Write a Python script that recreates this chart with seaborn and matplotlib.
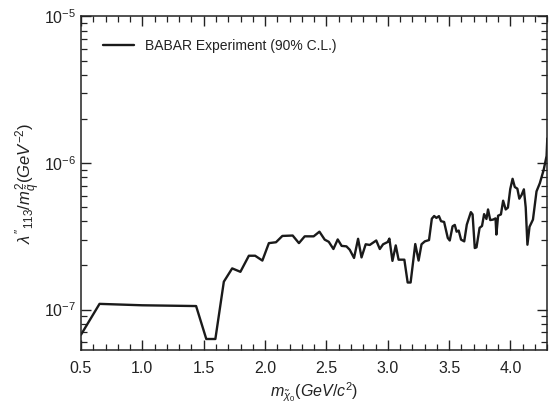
import matplotlib
matplotlib.use("Agg")
import matplotlib.pyplot as plt
import seaborn as sns
import pandas as pd
from matplotlib.ticker import LogLocator, MultipleLocator, FixedLocator

# --- data ---
mass = [0.5, 0.651, 0.998, 1.438, 1.521, 1.595, 1.664, 1.732, 1.799, 1.868,
        1.919, 1.978, 2.031, 2.089, 2.141, 2.225, 2.276, 2.323, 2.396, 2.443,
        2.486, 2.519, 2.557, 2.592, 2.624, 2.663, 2.690, 2.725, 2.758, 2.786,
        2.820, 2.853, 2.906, 2.935, 2.962, 2.999, 3.013, 3.038, 3.065, 3.088,
        3.135, 3.162, 3.186, 3.224, 3.251, 3.275, 3.302, 3.336, 3.359, 3.378,
        3.396, 3.417, 3.434, 3.459, 3.489, 3.505, 3.528, 3.546, 3.561, 3.578,
        3.597, 3.623, 3.644, 3.677, 3.691, 3.709, 3.723, 3.748, 3.768, 3.785,
        3.804, 3.817, 3.835, 3.858, 3.878, 3.885, 3.899, 3.922, 3.940, 3.961,
        3.979, 3.998, 4.017, 4.035, 4.056, 4.072, 4.090, 4.109, 4.124, 4.138,
        4.155, 4.183, 4.212, 4.239, 4.270, 4.294, 4.300]
limit = [6.74e-8, 1.094e-7, 1.07e-7, 1.057e-7, 6.3e-8, 6.3e-8, 1.55e-7, 1.91e-7, 1.81e-7, 2.33e-7,
         2.33e-7, 2.16e-7, 2.84e-7, 2.88e-7, 3.18e-7, 3.2e-7, 2.84e-7, 3.16e-7, 3.16e-7, 3.40e-7,
         3.0e-7, 2.9e-7, 2.59e-7, 3.01e-7, 2.72e-7, 2.70e-7, 2.56e-7, 2.25e-7, 3.04e-7, 2.27e-7,
         2.79e-7, 2.76e-7, 2.96e-7, 2.59e-7, 2.79e-7, 2.89e-7, 3.05e-7, 2.15e-7, 2.74e-7, 2.19e-7,
         2.19e-7, 1.53e-7, 1.53e-7, 2.80e-7, 2.16e-7, 2.79e-7, 2.92e-7, 2.98e-7, 4.17e-7, 4.35e-7,
         4.22e-7, 4.34e-7, 4.01e-7, 3.96e-7, 3.08e-7, 2.96e-7, 3.70e-7, 3.78e-7, 3.40e-7, 3.46e-7,
         3.0e-7, 2.92e-7, 3.80e-7, 4.62e-7, 4.46e-7, 2.63e-7, 2.66e-7, 3.61e-7, 3.72e-7, 4.48e-7,
         4.15e-7, 4.82e-7, 4.08e-7, 4.11e-7, 4.19e-7, 3.25e-7, 4.37e-7, 4.46e-7, 5.53e-7, 4.82e-7,
         4.96e-7, 6.64e-7, 7.80e-7, 6.86e-7, 6.68e-7, 5.71e-7, 6.04e-7, 6.61e-7, 4.98e-7, 2.77e-7,
         3.67e-7, 4.11e-7, 6.40e-7, 7.28e-7, 8.95e-7, 1.117e-6, 1.47e-6]
series_label = "BABAR Experiment (90% C.L.)"
x_ticks = [0.5, 1.0, 1.5, 2.0, 2.5, 3.0, 3.5, 4.0]
x_tick_labels = ["0.5", "1.0", "1.5", "2.0", "2.5", "3.0", "3.5", "4.0"]

df = pd.DataFrame({"mass": mass, "limit": limit, "series": series_label})

sns.set_style("ticks")
plt.rcParams["font.family"] = ["Liberation Sans", "DejaVu Sans"]
plt.rcParams["mathtext.fontset"] = "custom"
plt.rcParams["mathtext.it"] = "Liberation Sans:italic"
plt.rcParams["mathtext.rm"] = "Liberation Sans"
plt.rcParams["mathtext.sf"] = "Liberation Sans"

fig = plt.figure(figsize=(5.51, 4.03), dpi=100)
ax = fig.add_axes([0.147, 0.1315, 0.8463, 0.8278])

sns.lineplot(data=df, x="mass", y="limit", hue="series", palette=["#1a1a1a"],
             sort=False, estimator=None, linewidth=1.7, ax=ax)

ax.set_yscale("log")
ax.set_xlim(0.5, 4.3)
ax.set_ylim(5.3e-8, 1e-5)

ax.xaxis.set_major_locator(FixedLocator(x_ticks))
ax.set_xticklabels(x_tick_labels)
ax.xaxis.set_minor_locator(MultipleLocator(0.1))
ax.yaxis.set_major_locator(LogLocator(base=10, numticks=10))
ax.yaxis.set_minor_locator(LogLocator(base=10, subs=range(2, 10), numticks=20))

ax.tick_params(which="both", direction="in", top=True, right=True,
               color="#222222", labelsize=11.5, labelcolor="#222222")
ax.tick_params(which="major", length=7, width=1)
ax.tick_params(which="minor", length=4, width=0.9)
ax.tick_params(axis="x", which="major", pad=8)
for s in ax.spines.values():
    s.set_color("#222222")
    s.set_linewidth(1.1)

ax.set_xlabel(r"$m_{\tilde{\chi}_0}(GeV/c^2)$", fontsize=11.5, color="#222222", labelpad=3)
ax.set_ylabel(r"$\lambda''_{113}/m^2_{\tilde{q}}(GeV^{-2})$", fontsize=12,
              color="#222222", labelpad=1)

leg = ax.legend(loc="upper left", frameon=False, fontsize=10, handlelength=2.2,
                borderaxespad=1.0, handletextpad=0.8, borderpad=0.6)
for t in leg.get_texts():
    t.set_color("#222222")

fig.savefig("out.png", dpi=100)
